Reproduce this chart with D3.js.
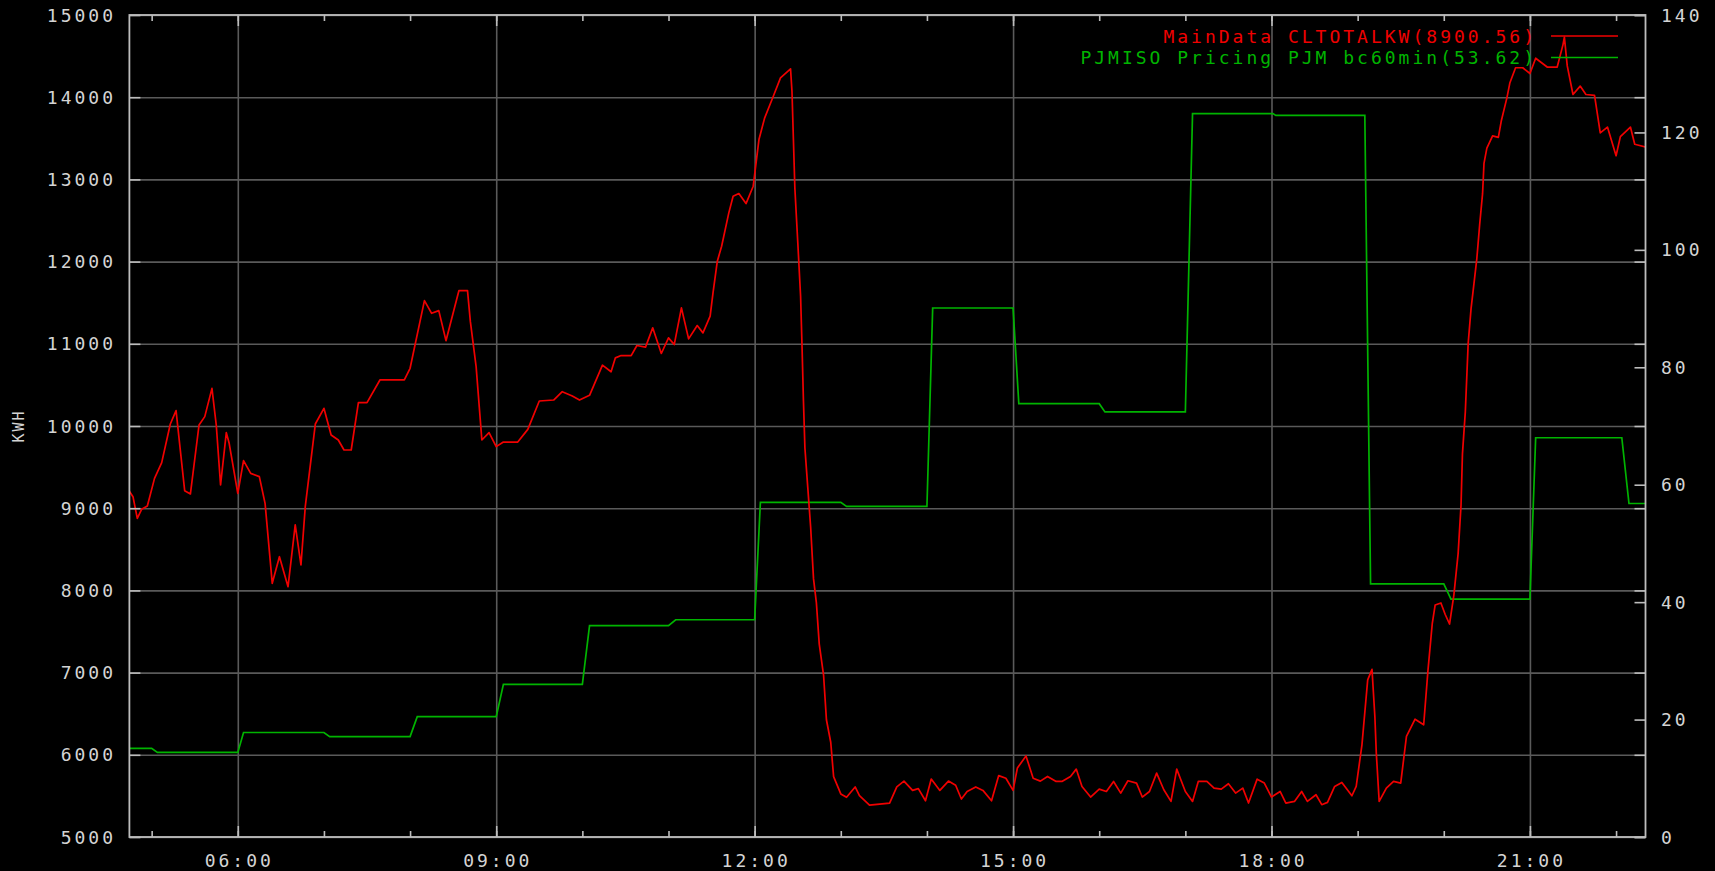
<!DOCTYPE html>
<html><head><meta charset="utf-8">
<script src="https://cdn.jsdelivr.net/npm/d3@7"></script>
<style>html,body{margin:0;padding:0;background:#000;overflow:hidden}</style>
</head><body>
<svg id="chart" width="1715" height="871"></svg>
<script>
// ---------- data ----------
const leftTicks = [5000, 6000, 7000, 8000, 9000, 10000, 11000, 12000, 13000, 14000, 15000];
const rightTicks = [0, 20, 40, 60, 80, 100, 120, 140];
const timeTicks = ["06:00", "09:00", "12:00", "15:00", "18:00", "21:00"];
const timeDomain = ["04:44:30", "22:20:30"];
const leftDomain = [5000, 15000];
const rightDomain = [0, 140];
const yLabel = "KWH";
const legendLabels = ["MainData CLTOTALKW(8900.56)", "PJMISO Pricing PJM bc60min(53.62)"];

const kwhSeries = [
  ["04:44",9220],["04:47",9140],["04:50",8877],["04:53",8986],["04:57",9027],["05:02",9363],
  ["05:07",9554],["05:13",10024],["05:17",10187],["05:23",9213],["05:27",9173],["05:33",10012],
  ["05:37",10114],["05:42",10458],["05:45",10012],["05:48",9282],["05:52",9919],["05:54",9789],
  ["06:00",9181],["06:04",9578],["06:09",9424],["06:15",9384],["06:19",9059],["06:24",8086],
  ["06:29",8410],["06:35",8045],["06:40",8796],["06:44",8309],["06:47",9019],["06:54",10024],
  ["07:00",10215],["07:05",9891],["07:10",9830],["07:14",9708],["07:19",9708],["07:24",10284],
  ["07:30",10284],["07:39",10560],["07:56",10560],["08:00",10702],["08:10",11525],["08:15",11371],
  ["08:20",11403],["08:25",11038],["08:34",11646],["08:40",11646],["08:42",11269],["08:46",10722],
  ["08:50",9830],["08:55",9919],["09:00",9749],["09:05",9805],["09:15",9805],["09:22",9959],
  ["09:30",10304],["09:40",10316],["09:46",10417],["09:53",10365],["09:58",10316],["10:05",10373],
  ["10:14",10740],["10:20",10660],["10:23",10829],["10:27",10857],["10:34",10857],["10:38",10979],
  ["10:44",10959],["10:49",11194],["10:55",10882],["11:00",11072],["11:04",10991],["11:09",11437],
  ["11:14",11060],["11:20",11222],["11:24",11133],["11:29",11336],["11:31",11620],["11:34",12005],
  ["11:37",12187],["11:42",12593],["11:45",12796],["11:49",12828],["11:54",12706],["11:59",12917],
  ["12:01",13201],["12:03",13485],["12:07",13749],["12:13",14012],["12:18",14235],["12:25",14345],
  ["12:26",14073],["12:27",13485],["12:28",12897],["12:30",12248],["12:32",11579],["12:33",10971],
  ["12:34",10300],["12:35",9735],["12:37",9253],["12:39",8771],["12:41",8143],["12:43",7850],
  ["12:45",7347],["12:48",6970],["12:50",6426],["12:53",6153],["12:55",5734],["13:00",5524],
  ["13:04",5483],["13:10",5609],["13:13",5504],["13:20",5387],["13:34",5412],["13:39",5609],
  ["13:44",5680],["13:50",5567],["13:54",5588],["13:59",5441],["14:03",5705],["14:09",5567],
  ["14:15",5680],["14:20",5630],["14:24",5462],["14:28",5554],["14:34",5609],["14:39",5567],
  ["14:45",5441],["14:50",5747],["14:55",5714],["15:00",5567],["15:03",5839],["15:09",5986],
  ["15:14",5714],["15:19",5680],["15:24",5737],["15:30",5676],["15:34",5676],["15:40",5737],
  ["15:44",5826],["15:48",5615],["15:54",5486],["16:00",5583],["16:05",5554],["16:10",5676],
  ["16:15",5534],["16:20",5684],["16:26",5656],["16:30",5486],["16:35",5554],["16:40",5777],
  ["16:45",5575],["16:50",5433],["16:54",5826],["17:00",5554],["17:05",5433],["17:09",5676],
  ["17:15",5676],["17:20",5595],["17:25",5583],["17:30",5648],["17:35",5534],["17:40",5595],
  ["17:44",5413],["17:50",5704],["17:55",5656],["18:00",5486],["18:06",5554],["18:10",5413],
  ["18:16",5433],["18:21",5554],["18:25",5433],["18:31",5514],["18:35",5393],["18:39",5421],
  ["18:44",5615],["18:49",5664],["18:56",5502],["18:59",5615],["19:03",6121],["19:07",6911],
  ["19:10",7040],["19:12",6466],["19:13",6020],["19:15",5433],["19:20",5595],["19:25",5676],
  ["19:30",5656],["19:34",6223],["19:40",6433],["19:46",6365],["19:49",7030],["19:52",7600],
  ["19:54",7823],["19:58",7847],["20:01",7707],["20:04",7591],["20:07",7940],["20:10",8451],
  ["20:12",9033],["20:13",9661],["20:15",10172],["20:17",11009],["20:19",11428],["20:21",11730],
  ["20:23",12033],["20:25",12451],["20:27",12823],["20:28",13195],["20:30",13381],["20:34",13530],
  ["20:38",13512],["20:40",13707],["20:44",13995],["20:46",14172],["20:50",14358],["20:55",14358],
  ["21:00",14288],["21:04",14474],["21:12",14367],["21:19",14367],["21:23",14637],["21:24",14730],
  ["21:26",14381],["21:30",14033],["21:35",14135],["21:39",14033],["21:45",14023],["21:49",13567],
  ["21:54",13637],["22:00",13288],["22:03",13521],["22:10",13637],["22:13",13428],["22:21",13391]
];

const priceSeries = [
  ["04:44",15.1],["05:00",15.1],["05:04",14.4],["06:00",14.4],["06:04",17.8],["07:00",17.8],
  ["07:04",17.1],["08:00",17.1],["08:05",20.5],["09:00",20.5],["09:05",26.0],["10:00",26.0],
  ["10:05",36.0],["11:00",36.0],["11:05",37.0],["12:00",37.0],["12:04",57.0],["13:00",57.0],
  ["13:04",56.3],["14:00",56.3],["14:04",90.1],["15:00",90.1],["15:04",73.8],["16:00",73.8],
  ["16:04",72.4],["17:00",72.4],["17:05",123.2],["18:01",123.2],["18:03",122.9],["19:05",122.9],
  ["19:09",43.1],["20:00",43.1],["20:05",40.5],["21:00",40.5],["21:04",68.0],["22:04",68.0],
  ["22:09",56.8],["22:21",56.8]
];

// ---------- drawing ----------
const W = 1715, H = 871;
const plot = {left: 129.4, right: 1645.5, top: 15, bottom: 837};
const pHM = d3.timeParse("%H:%M");
const pHMS = d3.timeParse("%H:%M:%S");
const fmt = d3.timeFormat("%H:%M");

const x = d3.scaleTime().domain(timeDomain.map(pHMS)).range([plot.left, plot.right]);
const yL = d3.scaleLinear().domain(leftDomain).range([plot.bottom, plot.top]);
const yR = d3.scaleLinear().domain(rightDomain).range([plot.bottom, plot.top]);

const svg = d3.select("#chart");
svg.append("rect").attr("width", W).attr("height", H).attr("fill", "#000");

const FONT = "'DejaVu Sans Mono', monospace";
const TXT = "#d4d4d4";
const GRID = "#5a5a5a";
const AXIS = "#bdbdbd";

const pw = plot.right - plot.left, ph = plot.bottom - plot.top;

// gridlines
const gGrid = svg.append("g");
gGrid.append("g").attr("transform", `translate(${plot.left},0)`)
  .call(d3.axisLeft(yL).tickValues(leftTicks).tickSize(-pw).tickFormat(""))
  .call(g => g.select(".domain").remove())
  .call(g => g.selectAll("line").attr("stroke", GRID).attr("stroke-width", 1.6));
gGrid.append("g").attr("transform", `translate(0,${plot.bottom})`)
  .call(d3.axisBottom(x).tickValues(timeTicks.map(pHM)).tickSize(-ph).tickFormat(""))
  .call(g => g.select(".domain").remove())
  .call(g => g.selectAll("line").attr("stroke", GRID).attr("stroke-width", 1.6));

// series
const clip = svg.append("clipPath").attr("id", "clip").append("rect")
  .attr("x", plot.left).attr("y", plot.top).attr("width", pw).attr("height", ph);
const gS = svg.append("g").attr("clip-path", "url(#clip)");
gS.append("path").datum(priceSeries)
  .attr("fill", "none").attr("stroke", "#00b400").attr("stroke-width", 1.7)
  .attr("d", d3.line().x(d => x(pHM(d[0]))).y(d => yR(d[1])));
gS.append("path").datum(kwhSeries)
  .attr("fill", "none").attr("stroke", "#f00000").attr("stroke-width", 1.7).attr("stroke-linejoin", "round")
  .attr("d", d3.line().x(d => x(pHM(d[0]))).y(d => yL(d[1])));

// axes ticks (inward)
const tickStyle = (g, w) => g.selectAll("line").attr("stroke", AXIS).attr("stroke-width", w || 1.6);
const hours = d3.timeHour.range(x.domain()[0], x.domain()[1]);
const gAx = svg.append("g");
// left axis, ticks inward
gAx.append("g").attr("transform", `translate(${plot.left},0)`)
  .call(d3.axisRight(yL).tickValues(leftTicks).tickSize(11).tickFormat(""))
  .call(g => g.select(".domain").remove()).call(g => tickStyle(g));
// left ticks mirrored on the right border
gAx.append("g").attr("transform", `translate(${plot.right},0)`)
  .call(d3.axisLeft(yL).tickValues(leftTicks).tickSize(11).tickFormat(""))
  .call(g => g.select(".domain").remove()).call(g => tickStyle(g));
// right axis ticks
gAx.append("g").attr("transform", `translate(${plot.right},0)`)
  .call(d3.axisLeft(yR).tickValues(rightTicks).tickSize(11).tickFormat(""))
  .call(g => g.select(".domain").remove()).call(g => tickStyle(g));
// bottom minor/major ticks
gAx.append("g").attr("transform", `translate(0,${plot.bottom})`)
  .call(d3.axisTop(x).tickValues(hours).tickSize(6).tickFormat(""))
  .call(g => g.select(".domain").remove()).call(g => tickStyle(g));
gAx.append("g").attr("transform", `translate(0,${plot.bottom})`)
  .call(d3.axisTop(x).tickValues(timeTicks.map(pHM)).tickSize(11).tickFormat(""))
  .call(g => g.select(".domain").remove()).call(g => tickStyle(g));
// top ticks
gAx.append("g").attr("transform", `translate(0,${plot.top})`)
  .call(d3.axisBottom(x).tickValues(hours).tickSize(6).tickFormat(""))
  .call(g => g.select(".domain").remove()).call(g => tickStyle(g));
gAx.append("g").attr("transform", `translate(0,${plot.top})`)
  .call(d3.axisBottom(x).tickValues(timeTicks.map(pHM)).tickSize(11).tickFormat(""))
  .call(g => g.select(".domain").remove()).call(g => tickStyle(g));

// frame
svg.append("rect").attr("x", plot.left).attr("y", plot.top).attr("width", pw).attr("height", ph)
  .attr("fill", "none").attr("stroke", AXIS).attr("stroke-width", 1.8);

// labels
const tStyle = s => s.attr("font-family", FONT).attr("font-size", 18).attr("letter-spacing", 3).attr("fill", TXT);
svg.append("g").selectAll("text").data(leftTicks).join("text")
  .attr("x", 116).attr("y", d => yL(d) + 6.5).attr("text-anchor", "end").text(d => d).call(tStyle);
svg.append("g").selectAll("text").data(rightTicks).join("text")
  .attr("x", 1661).attr("y", d => yR(d) + 6.5).attr("text-anchor", "start").text(d => d).call(tStyle);
svg.append("g").selectAll("text").data(timeTicks).join("text")
  .attr("x", d => x(pHM(d)) + 1.5).attr("y", 866.5).attr("text-anchor", "middle").text(d => d).call(tStyle);
svg.append("text").attr("transform", `translate(24,${(plot.top + plot.bottom) / 2}) rotate(-90)`)
  .attr("text-anchor", "middle").text(yLabel).call(tStyle).attr("font-size", 15).attr("letter-spacing", 2);

// legend
const legColors = ["#f00000", "#00b400"];
const leg = svg.append("g");
legendLabels.forEach((lab, i) => {
  const cy = 36 + i * 21.5;
  leg.append("text").attr("x", 1537).attr("y", cy + 6.5).attr("text-anchor", "end")
    .text(lab).call(tStyle).attr("fill", legColors[i]);
  leg.append("line").attr("x1", 1551).attr("x2", 1618).attr("y1", cy).attr("y2", cy)
    .attr("stroke", legColors[i]).attr("stroke-width", 1.7);
});
</script>
</body></html>
